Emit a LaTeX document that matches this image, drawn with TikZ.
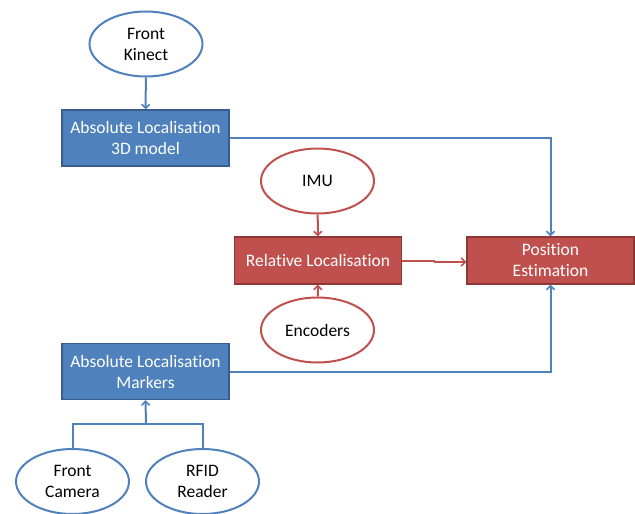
\documentclass[tikz,border=0pt]{standalone}
\usepackage{fontspec}
\setmainfont{Carlito}[Ligatures=NoCommon]
\usetikzlibrary{shapes.geometric,arrows.meta}
\definecolor{bfill}{HTML}{4F81BD}
\definecolor{bline}{HTML}{385D8A}
\definecolor{rfill}{HTML}{C0504D}
\definecolor{rline}{HTML}{8C3836}
\tikzset{
  txt/.style={font=\fontsize{17.5}{21}\selectfont, align=center, inner sep=0pt},
  bbox/.style={txt, rectangle, fill=bfill, draw=bline, line width=1.3pt, text=white, minimum width=167pt, minimum height=56pt},
  rbox/.style={txt, rectangle, fill=rfill, draw=rline, line width=1.3pt, text=white, minimum width=167pt, minimum height=47pt},
  bell/.style={txt, ellipse, draw=bfill, line width=2pt, fill=white, minimum width=113pt, minimum height=65pt},
  rell/.style={txt, ellipse, draw=rfill, line width=2pt, fill=white, minimum width=113pt, minimum height=65pt},
  tip/.style={-{Straight Barb[length=4pt,width=8pt,line width=1.6pt]}},
  bcon/.style={draw=bfill, line width=2pt},
  rcon/.style={draw=rfill, line width=2pt},
}
\begin{document}
\begin{tikzpicture}[x=1pt,y=-1pt]
\useasboundingbox (0,0) rectangle (635,514);
\node[bell] (kin) at (146,44) {Front\\Kinect};
\node[bbox] (abs3d) at (145.5,138) {Absolute Localisation\\3D model};
\node[rell] (imu) at (317.5,181) {IMU};
\node[rbox] (rel) at (318,260.5) {Relative Localisation};
\node[rbox] (pos) at (550.5,260.5) {Position\\Estimation};
\node[rell] (enc) at (317.5,330) {Encoders};
\node[bbox] (mark) at (145.5,371.5) {Absolute Localisation\\Markers};
\node[bell] (cam) at (72.5,481.5) {Front\\Camera};
\node[bell] (rfid) at (202.5,481.5) {RFID\\Reader};
\coordinate (j1) at (434,260.5);
\coordinate (j2) at (434,262);
\coordinate (jb) at (146,424);
\draw[bcon,tip] (kin) -- (abs3d);
\draw[bcon,tip] (abs3d.east) -| (pos.north);
\draw[bcon,tip] (mark.east) -| (pos.south);
\draw[rcon,tip] (imu) -- (rel);
\draw[rcon,tip] (enc) -- (rel);
\draw[rcon] (rel.east) -- (j1) -- (j2);
\draw[rcon,tip] (j2) -- (j2 -| pos.west);
\draw[bcon] (cam.north) |- (jb) -| (rfid.north);
\draw[bcon,tip] (jb) -- (mark.south);
\end{tikzpicture}
\end{document}
